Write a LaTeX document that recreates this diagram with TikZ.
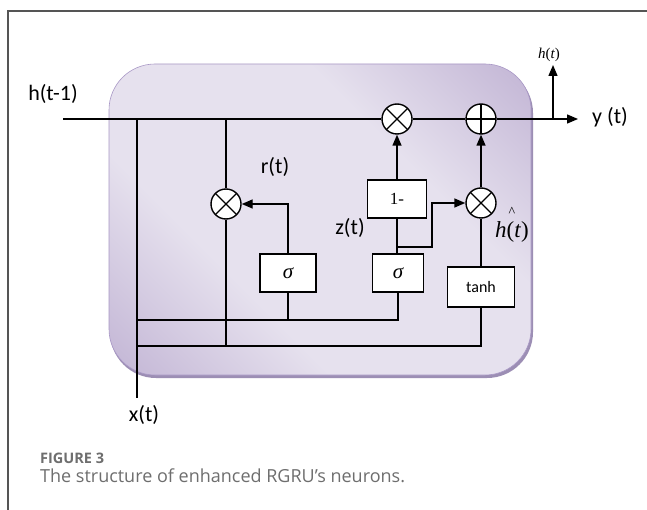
\documentclass[tikz,border=0pt]{standalone}
\usepackage{fontspec}
\usetikzlibrary{arrows.meta}
\setmainfont{Carlito}
\newfontfamily\serifT{Liberation Serif}
\newfontfamily\capfont{Open Sans}
\definecolor{pdark}{HTML}{A996C3}
\definecolor{plight}{HTML}{E6E1EE}
\definecolor{shadowc}{HTML}{9C8EB4}
\definecolor{edgec}{HTML}{A998C6}
\definecolor{framec}{HTML}{555555}
\definecolor{capc}{HTML}{6E6E6E}
\pgfdeclarehorizontalshading{boxshade}{100bp}{color(0bp)=(pdark); color(36bp)=(plight); color(64bp)=(plight); color(100bp)=(pdark)}
\tikzset{
  wire/.style={draw=black, line width=1.4pt},
  arr/.style={-{Triangle[length=11pt,width=9pt]}},
  op/.style={circle, draw=black, fill=white, line width=1.4pt, minimum size=30pt, inner sep=0pt},
  mult/.style={op, path picture={\draw[line width=1.2pt]
      (path picture bounding box.north west) -- (path picture bounding box.south east)
      (path picture bounding box.north east) -- (path picture bounding box.south west);}},
  plusop/.style={op, path picture={\draw[line width=1.2pt]
      (path picture bounding box.north) -- (path picture bounding box.south)
      (path picture bounding box.west) -- (path picture bounding box.east);}},
  gatebox/.style={rectangle, draw=black, fill=white, line width=1.3pt, inner sep=0pt},
  lab/.style={font=\fontsize{22}{24}\selectfont, inner sep=0pt},
}
\begin{document}
\begin{tikzpicture}[x=1pt, y=-1pt]
\useasboundingbox (0,0) rectangle (647,510);
\fill[white] (0,0) rectangle (647,510);
% frame
\draw[framec, line width=1.3pt] (8,510) -- (8,11) -- (647,11);
% purple box
\fill[shadowc, rounded corners=46pt] (110,67) rectangle (533,378);
\shade[shading=boxshade, shading angle=45, rounded corners=46pt] (109,64) rectangle (531,375);
\draw[edgec, line width=0.6pt, rounded corners=46pt] (109,64) rectangle (531,375);

% coordinates
\coordinate (in) at (63,119);
\coordinate (out) at (578,119);
\coordinate (xt) at (137,119);
\coordinate (xb) at (137,398);
\coordinate (rt) at (226,119);
\coordinate (h1L) at (137,320);
\coordinate (h2L) at (137,346);
\coordinate (br) at (397,247);
\coordinate (bk) at (432,247);
\coordinate (hb) at (553,119);
\coordinate (ht) at (553,65);

% operators
\node[mult] (M1) at (397,119) {};
\node[plusop] (P) at (481,119) {};
\node[mult] (R) at (226,204) {};
\node[mult] (M2) at (481,203) {};

% gates
\node[gatebox, minimum width=56pt, minimum height=38pt] (s1) at (288,273) {\fontsize{21}{21}\selectfont\serifT\itshape σ};
\node[gatebox, minimum width=51pt, minimum height=38pt] (s2) at (398,273) {\fontsize{21}{21}\selectfont\serifT\itshape σ};
\node[gatebox, minimum width=59pt, minimum height=38pt] (onem) at (397,199) {\fontsize{17}{17}\selectfont\serifT 1-};
\node[gatebox, minimum width=67pt, minimum height=40pt] (tanh) at (481,287) {\fontsize{16}{16}\selectfont tanh};

% wires
\draw[wire] (in) -- (M1.west);
\draw[wire] (M1.east) -- (P.west);
\draw[wire, arr] (P.east) -- (out);
\draw[wire, arr] (hb) -- (ht);
\draw[wire] (xt) -- (xb);
\draw[wire] (rt) -- (R.north);
\draw[wire] (R.south) -- (R.south |- h2L);
\draw[wire, arr] (s1.north) |- (R.east);
\draw[wire] (s1.south) |- (h1L);
\draw[wire] (s2.south) |- (h1L);
\draw[wire] (tanh.south) |- (h2L);
\draw[wire, arr] (onem.north) -- (M1.south);
\draw[wire] (onem.south) -- (onem.south |- s2.north);
\draw[wire, arr] (br) -- (bk) |- (M2.west);
\draw[wire] (tanh.north) -- (M2.south);
\draw[wire, arr] (M2.north) -- (P.south);

% labels
\node[lab] (lhprev) at (53,94) {h(t-1)};
\node[lab, anchor=west] (ly) at (592,117) {y (t)};
\node[lab] (lr) at (275,167) {r(t)};
\node[lab] (lz) at (350,228) {z(t)};
\node[lab] (lx) at (144,415) {x(t)};
\node[inner sep=0pt] (lh) at (549,55) {\fontsize{15}{15}\selectfont\serifT\textit{h}(\textit{t})};
\node[inner sep=0pt] (lhh) at (512,224) {$\stackrel{\raisebox{3pt}{\fontsize{14}{14}\selectfont\serifT\^{}}}{\mbox{\fontsize{23}{23}\selectfont\serifT\textit{h}(\textit{t})}}$};

% caption
\node[anchor=base west, inner sep=0pt, text=capc] (fig) at (40,463) {\capfont\fontsize{14.5}{14.5}\selectfont\bfseries FIGURE 3};
\node[anchor=base west, inner sep=0pt, text=capc] (cap) at (40,482) {\capfont\fontsize{18}{18}\selectfont The structure of enhanced RGRU’s neurons.};
\end{tikzpicture}
\end{document}
